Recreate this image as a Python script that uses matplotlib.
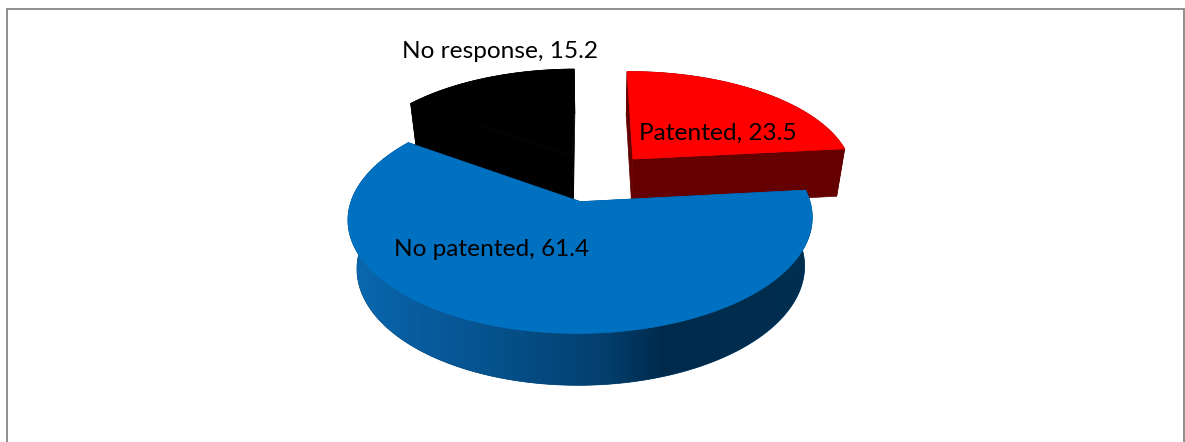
import numpy as np
import matplotlib
matplotlib.use('Agg')
import matplotlib.pyplot as plt
from matplotlib.colors import LinearSegmentedColormap
from matplotlib.patches import Polygon

labels = ['Patented', 'No patented', 'No response']
values = [23.5, 61.4, 15.2]
top_colors = ['#ff0000', '#0070c0', '#000000']
wall_colors = ['#640000', '#004070', '#000000']

plt.rcParams['font.family'] = ['Lato', 'DejaVu Sans']

# projection of the pie, in pixels
CX, CY = 599, 177
RX, RY = 222, 104.9
PERSP = 0.144
DEPTH = 50
DEPTH_PERSP = 0.035
EXPLODE = 0.235
START = 90.5
# small sideways corrections to the exploded positions
NUDGE = [(0, 0), (-0.022, 0), (-0.013, 0)]

# shading along the outer wall of the big slice, left to right
wall_cmap = LinearSegmentedColormap.from_list('wall', [
    (0.0, '#0a68b0'), (0.15, '#085c9e'), (0.35, '#054f88'),
    (0.55, '#033f6e'), (0.685, '#002a4c'), (1.0, '#002f50')])


def proj(u, v, h=0.0):
    w = 1 + PERSP * v + DEPTH_PERSP * h
    return CX + RX * u / w, CY - RY * v / w + DEPTH * h / w


fig = plt.figure(figsize=(11.85, 4.42), dpi=100)
ax = fig.add_axes([0, 0, 1, 1])

# chart frame, open at the bottom
ax.plot([7, 7, 1184, 1184], [442, 8.5, 8.5, 442], color='#868686', lw=1.3, solid_joinstyle='miter')

# slice angles, clockwise from the start angle
total = sum(values)
edges = START - np.cumsum([0] + values) / total * 360

# far slices first so the big one sits on top
for i in [2, 0, 1]:
    a0, a1 = edges[i], edges[i + 1]
    mid = np.radians((a0 + a1) / 2)
    off = (EXPLODE * np.cos(mid) + NUDGE[i][0], EXPLODE * np.sin(mid) + NUDGE[i][1])
    t = np.radians(np.linspace(a0, a1, 200))
    us, vs = off[0] + np.cos(t), off[1] + np.sin(t)

    # inner walls along the two cut edges
    for j in [0, -1]:
        pts = [proj(*off), proj(us[j], vs[j]), proj(us[j], vs[j], 1), proj(off[0], off[1], 1)]
        ax.add_patch(Polygon(pts, closed=True, fc=wall_colors[i], ec=wall_colors[i], lw=0.5, zorder=2 + i))

    # outer wall
    wall = [proj(u, v) for u, v in zip(us, vs)] + [proj(u, v, 1) for u, v in zip(us[::-1], vs[::-1])]
    wall_patch = Polygon(wall, closed=True, fc=wall_colors[i], ec=wall_colors[i], lw=0.5, zorder=2 + i)
    ax.add_patch(wall_patch)
    if i == 1:
        grad = ax.imshow(np.linspace(0, 1, 460).reshape(1, -1), cmap=wall_cmap, aspect='auto',
                         extent=(350, 810, 400, 180), zorder=2.5 + i)
        grad.set_clip_path(wall_patch)

    # top face
    top = [proj(*off)] + [proj(u, v) for u, v in zip(us, vs)]
    ax.add_patch(Polygon(top, closed=True, fc=top_colors[i], ec=top_colors[i], lw=0.5, zorder=3 + i))

text_pos = [(718, 133), (491.5, 250), (499.5, 51)]
for name, val, (tx, ty) in zip(labels, values, text_pos):
    ax.text(tx, ty, f'{name}, {val}', ha='center', va='center', fontsize=17.6, color='black', zorder=10)

ax.set_xlim(0, 1185)
ax.set_ylim(442, 0)
ax.axis('off')

plt.savefig('out.png', dpi=100)
